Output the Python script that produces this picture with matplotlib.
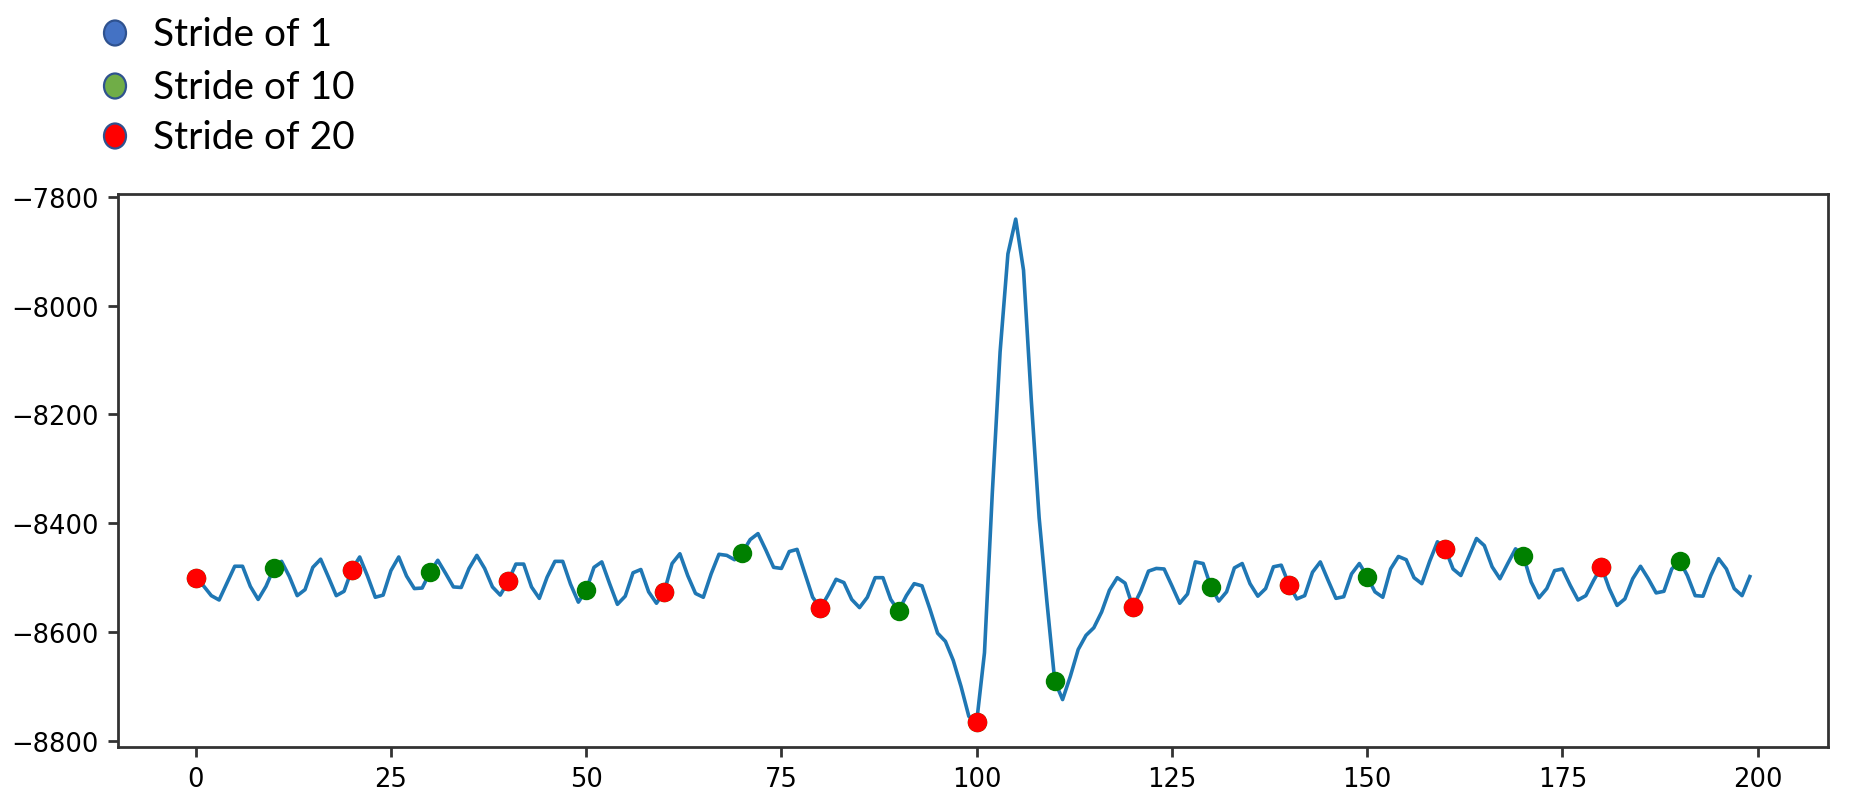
import matplotlib
matplotlib.use("Agg")
import matplotlib.pyplot as plt
import numpy as np
from matplotlib.patches import Ellipse

# ── Data ──────────────────────────────────────────────────────────────────────
signal = [
    -8500, -8515, -8533, -8541, -8510, -8479, -8479, -8516, -8540, -8516,
    -8483, -8470, -8498, -8533, -8522, -8481, -8466, -8499, -8533, -8525,
    -8485, -8462, -8497, -8536, -8532, -8487, -8462, -8497, -8520, -8519,
    -8490, -8468, -8492, -8517, -8518, -8483, -8459, -8483, -8517, -8532,
    -8507, -8475, -8475, -8517, -8538, -8499, -8470, -8470, -8512, -8545,
    -8523, -8481, -8471, -8511, -8549, -8534, -8491, -8485, -8526, -8547,
    -8526, -8474, -8456, -8496, -8529, -8536, -8493, -8457, -8459, -8467,
    -8454, -8430, -8419, -8449, -8481, -8483, -8452, -8448, -8492, -8536,
    -8556, -8531, -8503, -8509, -8540, -8555, -8536, -8500, -8500, -8540,
    -8561, -8533, -8511, -8515, -8557, -8602, -8617, -8652, -8700, -8755,
    -8765, -8638, -8345, -8085, -7905, -7841, -7935, -8175, -8390, -8545,
    -8690, -8724, -8681, -8632, -8606, -8592, -8563, -8523, -8500, -8510,
    -8554, -8525, -8488, -8483, -8484, -8515, -8547, -8530, -8471, -8474,
    -8517, -8543, -8526, -8482, -8474, -8511, -8534, -8520, -8480, -8477,
    -8513, -8539, -8533, -8490, -8471, -8505, -8538, -8535, -8493, -8474,
    -8498, -8526, -8536, -8484, -8461, -8467, -8500, -8511, -8470, -8434,
    -8447, -8484, -8496, -8462, -8428, -8441, -8480, -8502, -8474, -8447,
    -8460, -8508, -8537, -8520, -8487, -8484, -8514, -8541, -8533, -8505,
    -8480, -8520, -8551, -8539, -8502, -8479, -8502, -8528, -8525, -8484,
    -8469, -8496, -8533, -8534, -8496, -8465, -8484, -8520, -8533, -8498,
]
steps = np.arange(len(signal))

legend_labels = ["Stride of 1", "Stride of 10", "Stride of 20"]
legend_fill   = ["#4472C4", "#70AD47", "#FF0000"]
legend_edge   = "#2F528F"

# ── Figure ────────────────────────────────────────────────────────────────────
fig = plt.figure(figsize=(9.26, 4.06), dpi=200)
ax  = fig.add_axes([0.0637, 0.0788, 0.9231, 0.6811])

y = np.array(signal, dtype=float)
ax.plot(steps, y, color="#1f77b4", linewidth=1.3)
ax.plot(steps[::10], y[::10], "o", color="green", markersize=6)
ax.plot(steps[::20], y[::20], "o", color="red", markersize=6)

ax.set_yticks([-7800, -8000, -8200, -8400, -8600, -8800])
ax.set_xticks([0, 25, 50, 75, 100, 125, 150, 175, 200])
ax.tick_params(labelsize=9.3, width=1.0, color="#333333")
for sp in ax.spines.values():
    sp.set_linewidth(1.0)
    sp.set_color("#333333")

# ── Legend drawn like the slide shapes above the plot ─────────────────────────
W, H = 1852, 812
for k, (lab, fc) in enumerate(zip(legend_labels, legend_fill)):
    cy = [34, 87, 137][k]
    e = Ellipse((115 / W, 1 - cy / H), 22 / W, 25 / H,
                transform=fig.transFigure, facecolor=fc,
                edgecolor=legend_edge, linewidth=0.8)
    fig.add_artist(e)
    fig.text(153 / W, 1 - (cy + 1) / H, lab, fontsize=14,
             family=["Lato", "DejaVu Sans"], va="center", ha="left")

fig.savefig("out.png", dpi=200)
